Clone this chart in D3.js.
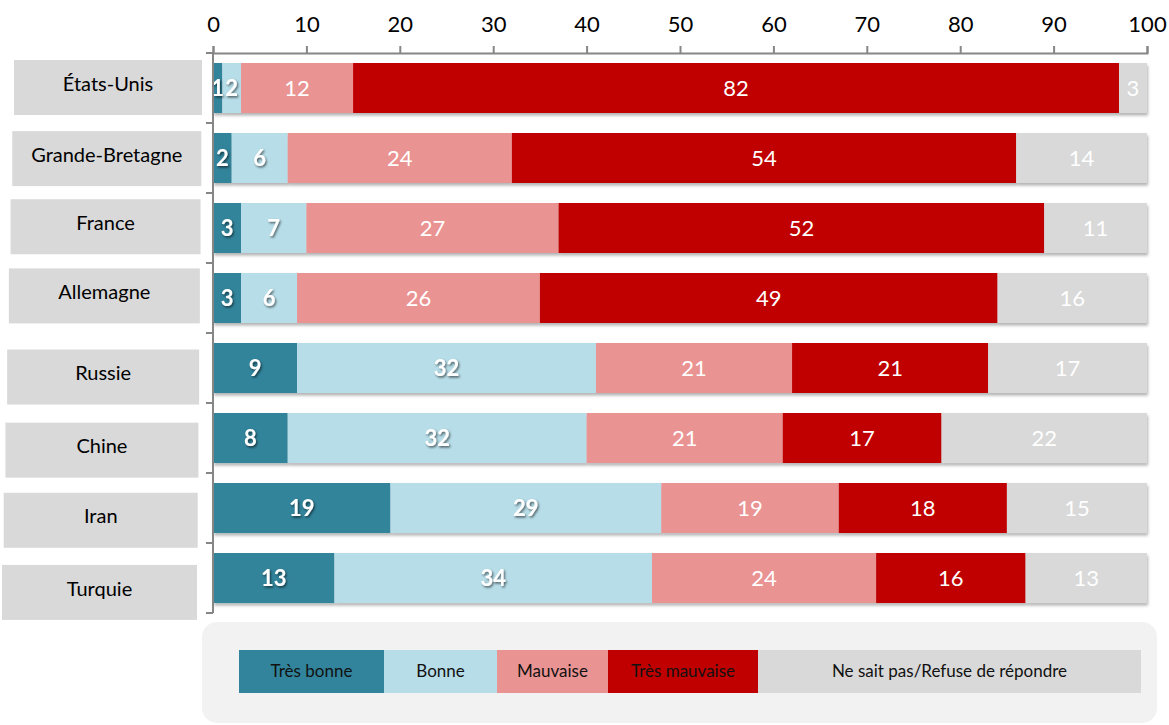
<!DOCTYPE html>
<html lang="fr">
<head>
<meta charset="utf-8">
<script src="https://cdn.jsdelivr.net/npm/d3@7/dist/d3.min.js"></script>
<style>
  html, body { margin: 0; padding: 0; background: #fff; }
  svg { display: block; font-family: Lato, "Open Sans", sans-serif; }
</style>
</head>
<body>
<svg id="chart" width="1169" height="725"></svg>
<script>
// Pays interrogés
const countries = ["États-Unis", "Grande-Bretagne", "France", "Allemagne", "Russie", "Chine", "Iran", "Turquie"];
// Modalités de réponse
const seriesNames = ["Très bonne", "Bonne", "Mauvaise", "Très mauvaise", "Ne sait pas/Refuse de répondre"];
// Pourcentages par modalité, dans l'ordre des pays
const tresBonne    = [1, 2, 3, 3, 9, 8, 19, 13];
const bonne        = [2, 6, 7, 6, 32, 32, 29, 34];
const mauvaise     = [12, 24, 27, 26, 21, 21, 19, 24];
const tresMauvaise = [82, 54, 52, 49, 21, 17, 18, 16];
const nsp          = [3, 14, 11, 16, 17, 22, 15, 13];
// Graduations de l'axe horizontal
const xTicks = [0, 10, 20, 30, 40, 50, 60, 70, 80, 90, 100];

const colors = ["#31849B", "#B7DDE8", "#EA9393", "#C00000", "#D9D9D9"];
const boldSeries = [true, true, false, false, false];
const legendWidths = [145, 113, 111, 150, 383];
// Décalage vertical des cartouches de pays (placés à la main)
const boxShift = [0, -1, -5, -8, 1, 2, 0, 0];

const svg = d3.select("#chart");

const rows = countries.map((c, i) => ({
  country: c,
  values: [tresBonne[i], bonne[i], mauvaise[i], tresMauvaise[i], nsp[i]]
}));
const keys = d3.range(seriesNames.length);
const table = rows.map(r => {
  const o = { country: r.country };
  keys.forEach(k => o[k] = r.values[k]);
  return o;
});
const stacked = d3.stack().keys(keys)(table);

const x = d3.scaleLinear().domain([0, 100]).range([213, 1147]);
const y = d3.scaleBand().domain(countries).range([53, 613]).paddingInner(0.2857).paddingOuter(0.1428);

// Filtres : ombre des barres et ombre des étiquettes en gras
const defs = svg.append("defs");
const barShadow = defs.append("filter").attr("id", "barShadow")
  .attr("x", "-5%").attr("y", "-20%").attr("width", "110%").attr("height", "150%");
barShadow.append("feDropShadow").attr("dx", 1).attr("dy", 2.5).attr("stdDeviation", 1.8)
  .attr("flood-color", "#000").attr("flood-opacity", 0.3);
const textShadow = defs.append("filter").attr("id", "textShadow")
  .attr("x", "-30%").attr("y", "-30%").attr("width", "160%").attr("height", "160%");
textShadow.append("feDropShadow").attr("dx", 1.2).attr("dy", 1.5).attr("stdDeviation", 1)
  .attr("flood-color", "#000").attr("flood-opacity", 0.6);

// Barres empilées
const rowG = svg.append("g").selectAll("g.row")
  .data(countries)
  .join("g").attr("class", "row")
  .attr("filter", "url(#barShadow)");

rowG.each(function(country, i) {
  const g = d3.select(this);
  stacked.forEach((s, k) => {
    const d = s[i];
    g.append("rect")
      .attr("x", x(d[0]))
      .attr("y", y(country))
      .attr("width", x(d[1]) - x(d[0]))
      .attr("height", y.bandwidth())
      .attr("fill", colors[k]);
  });
});

// Étiquettes de valeur
const labelG = svg.append("g");
stacked.forEach((s, k) => {
  s.forEach((d, i) => {
    labelG.append("text")
      .attr("x", (x(d[0]) + x(d[1])) / 2)
      .attr("y", y(countries[i]) + y.bandwidth() / 2)
      .attr("dy", "0.36em")
      .attr("text-anchor", "middle")
      .attr("fill", "#fff")
      .attr("font-size", 22)
      .attr("font-weight", boldSeries[k] ? 700 : 400)
      .attr("filter", boldSeries[k] ? "url(#textShadow)" : null)
      .text(rows[i].values[k]);
  });
});

// Axe horizontal en haut
const xAxis = svg.append("g")
  .attr("transform", "translate(0,53)")
  .call(d3.axisTop(x).tickValues(xTicks).tickSize(7).tickPadding(14).tickFormat(d3.format("d")));
xAxis.select(".domain").attr("stroke", "#868686").attr("stroke-width", 2);
xAxis.selectAll(".tick line").attr("stroke", "#868686").attr("stroke-width", 2);
xAxis.selectAll(".tick text").attr("font-size", 22).attr("fill", "#000")
  .attr("font-family", "Lato, sans-serif");

// Axe vertical avec graduations entre les catégories
const bounds = countries.map(c => y(c) - y.step() * y.paddingInner() / 2);
bounds.push(613);
const yAxis = svg.append("g");
yAxis.append("line")
  .attr("x1", x(0)).attr("x2", x(0)).attr("y1", 53).attr("y2", 613)
  .attr("stroke", "#868686").attr("stroke-width", 2);
yAxis.selectAll("line.tick").data(bounds).join("line").attr("class", "tick")
  .attr("x1", x(0) - 7).attr("x2", x(0)).attr("y1", d => d).attr("y2", d => d)
  .attr("stroke", "#868686").attr("stroke-width", 2);

// Cartouches des pays
const boxY = d3.scaleBand().domain(countries).range([60, 620]).paddingInner(0.236).paddingOuter(0);
const boxG = svg.append("g").selectAll("g").data(countries).join("g");
boxG.append("rect")
  .attr("x", (d, i) => 14 - i * 12 / 7)
  .attr("y", (d, i) => boxY(d) + boxShift[i])
  .attr("width", (d, i) => 188 + i * 7 / 7)
  .attr("height", 55)
  .attr("fill", "#D9D9D9");
boxG.append("text")
  .attr("x", (d, i) => (14 - i * 12 / 7) + (188 + i) / 2)
  .attr("y", (d, i) => boxY(d) + boxShift[i] + 27.5 - 4)
  .attr("dy", "0.36em")
  .attr("text-anchor", "middle")
  .attr("font-size", 20)
  .attr("fill", "#000")
  .text(d => d);

// Légende
const legendG = svg.append("g");
legendG.append("rect")
  .attr("x", 202).attr("y", 622).attr("width", 955).attr("height", 101)
  .attr("rx", 15).attr("fill", "#F2F2F2");
let lx = 239;
seriesNames.forEach((name, k) => {
  legendG.append("rect")
    .attr("x", lx).attr("y", 650).attr("width", legendWidths[k]).attr("height", 43)
    .attr("fill", colors[k]);
  legendG.append("text")
    .attr("x", lx + legendWidths[k] / 2).attr("y", 671)
    .attr("dy", "0.36em").attr("text-anchor", "middle")
    .attr("font-size", 17).attr("fill", "#111")
    .text(name);
  lx += legendWidths[k];
});
</script>
</body>
</html>
